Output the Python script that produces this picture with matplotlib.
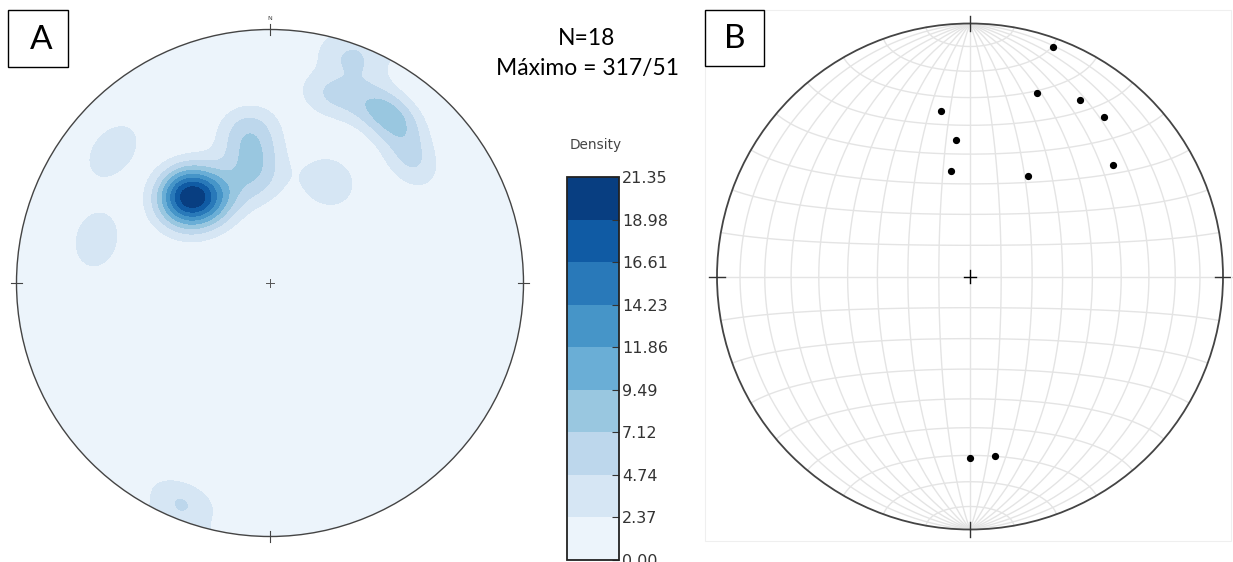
import numpy as np
import matplotlib
matplotlib.use("Agg")
import matplotlib.pyplot as plt
from matplotlib.patches import Circle, Rectangle

# ---------------- data ----------------
# Panel A: poles (trend / plunge, degrees) used for the density contours
poles_trend = [317, 318, 314, 321, 314, 328, 352, 352, 352, 20, 18, 32, 38, 49, 310, 284, 202, 30]
poles_plunge = [49, 56, 53, 52, 47, 58, 38, 47, 56, 7, 23, 20, 20, 27, 20, 30, 8, 52]
density_max = 21.35
n_levels = 10
label_n = "N=18"
label_max = "Máximo = 317/51"

# Panel B: plotted poles (trend / plunge, degrees)
pts_trend = [20, 350, 20, 32, 40, 354, 350, 52, 30, 180, 172]
pts_plunge = [4, 34, 24, 19, 19, 45, 55, 29, 52, 29, 29]
grid_step = 10

W, H = 1233, 562
fig = plt.figure(figsize=(W / 100, H / 100), dpi=100)
fig.patch.set_facecolor("white")


def fx(x):
    return x / W


def fy(y):
    return 1 - y / H


def project(trend, plunge):
    t = np.radians(np.asarray(trend, float))
    th = np.radians(90 - np.asarray(plunge, float))
    r = np.sqrt(2) * np.sin(th / 2)
    return r * np.sin(t), r * np.cos(t)


def pole_vectors(trend, plunge):
    t = np.radians(np.asarray(trend, float))
    p = np.radians(np.asarray(plunge, float))
    return np.stack([np.cos(p) * np.sin(t), np.cos(p) * np.cos(t), np.sin(p)], -1)


# ---------------- Panel A ----------------
cA, RA = (270, 283), 253.5
axA = fig.add_axes([fx(cA[0] - RA), fy(cA[1] + RA), 2 * RA / W, 2 * RA / H])
axA.set_xlim(-1, 1)
axA.set_ylim(-1, 1)
axA.axis("off")

g = np.linspace(-1.01, 1.01, 401)
X, Y = np.meshgrid(g, g)
Rg = np.clip(np.hypot(X, Y), 0, 1)
th = 2 * np.arcsin(Rg / np.sqrt(2))
az = np.arctan2(X, Y)
gv = np.stack([np.sin(th) * np.sin(az), np.sin(th) * np.cos(az), np.cos(th)], -1)
pv = pole_vectors(poles_trend, poles_plunge)
cosd = np.abs(gv @ pv.T)
kf = 80.0
dens = np.exp(kf * (cosd - 1)).sum(-1)
dens = dens * density_max / dens.max() * 0.99999

levels = np.linspace(0, density_max, n_levels)
cs = axA.contourf(X, Y, dens, levels=levels, cmap="Blues")
clipA = Circle((0, 0), 1, transform=axA.transData)
cs.set_clip_path(clipA)

axA.add_patch(Circle((0, 0), 1, fill=False, ec="#444444", lw=1.0, clip_on=False))
tk = 0.02
for ang in (0, 90, 180, 270):
    a = np.radians(ang)
    axA.plot([(1 - tk) * np.sin(a), (1 + tk) * np.sin(a)],
             [(1 - tk) * np.cos(a), (1 + tk) * np.cos(a)],
             color="#444444", lw=0.8, clip_on=False)
axA.plot([-0.015, 0.015], [0, 0], color="#555555", lw=0.7)
axA.plot([0, 0], [-0.015, 0.015], color="#555555", lw=0.7)
axA.text(0, 1.035, "N", ha="center", va="bottom", fontsize=4.5, color="#444444")

# colorbar
cax = fig.add_axes([fx(567), fy(560), 52 / W, (560 - 177) / H])
cb = fig.colorbar(cs, cax=cax, ticks=levels)
cb.ax.set_yticklabels([f"{v:.2f}" for v in levels])
cax.tick_params(direction="in", length=5, width=0.8, color="#333333",
                labelsize=11.5, labelcolor="#333333", pad=2)
cb.outline.set_linewidth(1.3)
cb.outline.set_edgecolor("#222222")
fig.text(fx(596), fy(145), "Density", ha="center", va="center", fontsize=9.8, color="#444444")

fig.text(fx(587), fy(38.5), label_n, ha="center", va="center", fontsize=16.5,
         family="Lato", color="black")
fig.text(fx(588), fy(68), label_max, ha="center", va="center", fontsize=16.5,
         family="Lato", color="black")

# box A
fig.patches.append(Rectangle((fx(8), fy(67)), 60 / W, 57 / H, transform=fig.transFigure,
                             fill=False, ec="black", lw=1.0))
fig.text(fx(41), fy(40), "A", ha="center", va="center", fontsize=24, family="Lato")

# ---------------- Panel B ----------------
fig.patches.append(Rectangle((fx(705), fy(541)), (1231 - 705) / W, (541 - 10) / H,
                             transform=fig.transFigure, fill=False, ec="#efefef", lw=0.8))

cB, RB = (970, 276.5), 253
axB = fig.add_axes([fx(cB[0] - RB), fy(cB[1] + RB), 2 * RB / W, 2 * RB / H])
axB.set_xlim(-1, 1)
axB.set_ylim(-1, 1)
axB.axis("off")


def schmidt(lon, lat):
    lon = np.radians(lon)
    lat = np.radians(lat)
    k = np.sqrt(2 / (1 + np.cos(lat) * np.cos(lon)))
    return k * np.cos(lat) * np.sin(lon) / np.sqrt(2), k * np.sin(lat) / np.sqrt(2)


s = np.linspace(-90, 90, 361)
for lon in np.arange(-90 + grid_step, 90, grid_step):
    x, y = schmidt(np.full_like(s, lon), s)
    axB.plot(x, y, color="#e4e4e4", lw=1.0, zorder=1)
for lat in np.arange(-90 + grid_step, 90, grid_step):
    x, y = schmidt(s, np.full_like(s, lat))
    axB.plot(x, y, color="#e4e4e4", lw=1.0, zorder=1)

axB.add_patch(Circle((0, 0), 1, fill=False, ec="#444444", lw=1.3, zorder=3, clip_on=False))
tk = 0.03
for ang in (0, 90, 180, 270):
    a = np.radians(ang)
    axB.plot([(1 - tk) * np.sin(a), (1 + tk) * np.sin(a)],
             [(1 - tk) * np.cos(a), (1 + tk) * np.cos(a)],
             color="#333333", lw=1.0, clip_on=False, zorder=3)
axB.plot([-0.025, 0.025], [0, 0], color="black", lw=1.0, zorder=3)
axB.plot([0, 0], [-0.025, 0.025], color="black", lw=1.0, zorder=3)

px_, py_ = project(pts_trend, pts_plunge)
axB.plot(px_, py_, "o", color="black", ms=4.2, zorder=4)

# box B
fig.patches.append(Rectangle((fx(705), fy(66)), 59 / W, 56 / H, transform=fig.transFigure,
                             fill=False, ec="black", lw=1.0))
fig.text(fx(735), fy(39.5), "B", ha="center", va="center", fontsize=24, family="Lato")

fig.savefig("out.png", dpi=100)
